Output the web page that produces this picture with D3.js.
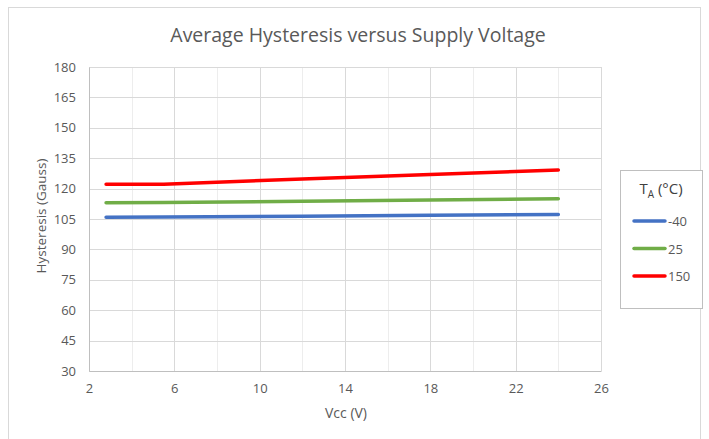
<!DOCTYPE html>
<html>
<head>
<meta charset="utf-8">
<script src="https://cdn.jsdelivr.net/npm/d3@7"></script>
<style>
  body { margin: 0; background: #fff; }
  text { font-family: "Open Sans", "Noto Sans", sans-serif; fill: #595959; }
</style>
</head>
<body>
<div class="container"></div>
<script>
// Chart data
const vcc = [2.8, 5.5, 12, 18, 24]
const hystMinus40 = [105.9, 106.0, 106.4, 106.8, 107.2]
const hyst25 = [113.0, 113.1, 113.8, 114.4, 115.0]
const hyst150 = [122.2, 122.2, 124.7, 126.9, 129.2]
const seriesNames = ["-40", "25", "150"]
const xTicks = [2, 6, 10, 14, 18, 22, 26]
const yTicks = [30, 45, 60, 75, 90, 105, 120, 135, 150, 165, 180]

const width = 709
const height = 439
const plot = {left: 89, right: 601, top: 67, bottom: 371}
const colors = ["#4472c4", "#70ad47", "#ff0000"]

const svg = d3.select(".container")
    .append("svg")
    .attr("width", width)
    .attr("height", height)

// outer chart frame
svg.append("rect")
    .attr("x", 8.5).attr("y", 7.5)
    .attr("width", 692).attr("height", 440)
    .attr("fill", "none")
    .attr("stroke", "#d9d9d9")

const xScale = d3.scaleLinear().domain([2, 26]).range([plot.left, plot.right])
const yScale = d3.scaleLinear().domain([30, 180]).range([plot.bottom, plot.top])

// minor vertical gridlines
const minorX = d3.range(4, 26, 4)
svg.append("g")
    .selectAll("line")
    .data(minorX)
    .enter()
    .append("line")
        .attr("x1", d => Math.round(xScale(d)) + 0.5).attr("x2", d => Math.round(xScale(d)) + 0.5)
        .attr("y1", plot.top).attr("y2", plot.bottom)
        .attr("stroke", "#ededed")

// major gridlines
svg.append("g")
    .selectAll("line")
    .data(xTicks)
    .enter()
    .append("line")
        .attr("x1", d => Math.round(xScale(d)) + 0.5).attr("x2", d => Math.round(xScale(d)) + 0.5)
        .attr("y1", plot.top).attr("y2", plot.bottom)
        .attr("stroke", "#d9d9d9")

svg.append("g")
    .selectAll("line")
    .data(yTicks)
    .enter()
    .append("line")
        .attr("x1", plot.left).attr("x2", plot.right)
        .attr("y1", d => Math.round(yScale(d)) + 0.5).attr("y2", d => Math.round(yScale(d)) + 0.5)
        .attr("stroke", "#d9d9d9")

// axes
const xAxis = svg.append("g")
    .attr("id", "x-axis")
    .attr("transform", `translate(0, ${plot.bottom})`)
    .call(d3.axisBottom(xScale).tickValues(xTicks).tickSize(0).tickPadding(13))
xAxis.select(".domain").attr("stroke", "#bfbfbf")
xAxis.selectAll("text").style("font-size", "13px").attr("fill", "#595959")

const yAxis = svg.append("g")
    .attr("id", "y-axis")
    .attr("transform", `translate(${plot.left}, 0)`)
    .call(d3.axisLeft(yScale).tickValues(yTicks).tickSize(0).tickPadding(13))
yAxis.select(".domain").attr("stroke", "#bfbfbf")
yAxis.selectAll("text").style("font-size", "13px").attr("fill", "#595959")

// titles
svg.append("text")
    .attr("x", 358).attr("y", 42)
    .attr("text-anchor", "middle")
    .style("font-size", "19.5px")
    .text("Average Hysteresis versus Supply Voltage")

svg.append("text")
    .attr("x", 346).attr("y", 418)
    .attr("text-anchor", "middle")
    .style("font-size", "14px")
    .text("Vcc (V)")

svg.append("text")
    .attr("transform", `translate(46, 216) rotate(-90)`)
    .attr("text-anchor", "middle")
    .style("font-size", "13.5px")
    .text("Hysteresis (Gauss)")

// series lines
const series = [hystMinus40, hyst25, hyst150]
const line = d3.line()
    .x((d, i) => xScale(vcc[i]))
    .y(d => yScale(d))

svg.append("g")
    .selectAll("path")
    .data(series)
    .enter()
    .append("path")
        .attr("d", d => line(d))
        .attr("fill", "none")
        .attr("stroke", (d, i) => colors[i])
        .attr("stroke-width", 3.5)
        .attr("stroke-linecap", "round")
        .attr("stroke-linejoin", "round")

// legend
const legend = svg.append("g").attr("id", "legend")
legend.append("rect")
    .attr("x", 620.5).attr("y", 170.5)
    .attr("width", 82).attr("height", 138)
    .attr("fill", "#fff")
    .attr("stroke", "#bfbfbf")

const legendTitle = legend.append("text")
    .attr("x", 661).attr("y", 194)
    .attr("text-anchor", "middle")
    .style("font-size", "15px")
    .style("fill", "#404040")
legendTitle.append("tspan").text("T")
legendTitle.append("tspan").attr("dy", 4).style("font-size", "10px").text("A")
legendTitle.append("tspan").attr("dy", -4).text(" (°C)")

const items = legend.selectAll(".legend-item")
    .data(seriesNames)
    .enter()
    .append("g")
        .attr("class", "legend-item")
        .attr("transform", (d, i) => `translate(0, ${221 + i * 27.5})`)
items.append("line")
    .attr("x1", 634).attr("x2", 665)
    .attr("stroke", (d, i) => colors[i])
    .attr("stroke-width", 3.5)
    .attr("stroke-linecap", "round")
items.append("text")
    .attr("x", 668).attr("y", 5)
    .style("font-size", "13px")
    .text(d => d)
</script>
</body>
</html>
